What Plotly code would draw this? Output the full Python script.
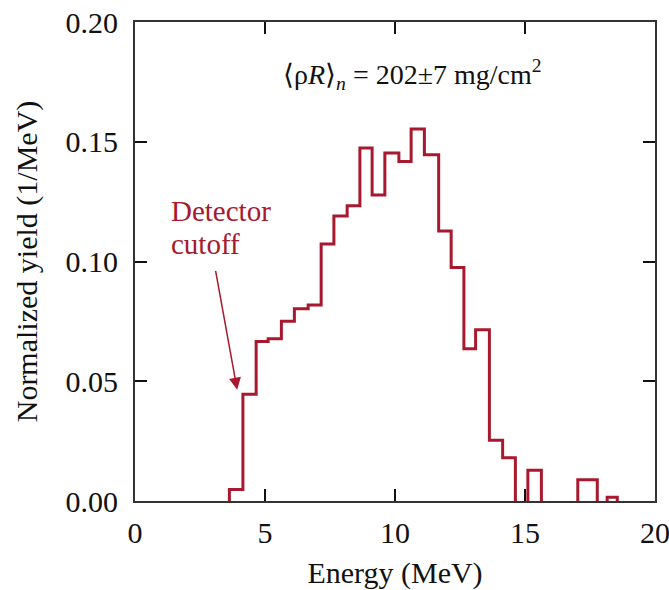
import plotly.graph_objects as go

# Histogram bin edges (MeV) and normalized yield (1/MeV)
edges = [3.63, 4.15, 4.66, 5.12, 5.63, 6.13, 6.66, 7.16, 7.65, 8.16, 8.65, 9.12,
         9.61, 10.15, 10.62, 11.13, 11.68, 12.16, 12.65, 13.10, 13.63, 14.14,
         14.63, 15.11, 15.63, 17.03, 17.78, 18.16, 18.55]
values = [0.0048, 0.0446, 0.0666, 0.0677, 0.0751, 0.0803, 0.0818, 0.1073, 0.1190,
          0.1233, 0.1474, 0.1278, 0.1453, 0.1418, 0.1553, 0.1446, 0.1127, 0.0975,
          0.0636, 0.0715, 0.0254, 0.0181, 0.0, 0.0128, 0.0, 0.0089, 0.0, 0.0016]

x_ticks = [0, 5, 10, 15, 20]
y_ticks = [0.00, 0.05, 0.10, 0.15, 0.20]
y_ticklabels = ["0.00", "0.05", "0.10", "0.15", "0.20"]

RED = "#A6192E"
AX = "#333333"
FONT = "Liberation Serif, Times New Roman, serif"

# build step outline, breaking where bins are empty
xs, ys = [edges[0]], [0]
for i, v in enumerate(values):
    if v == 0:
        xs += [edges[i], None, edges[i + 1]]
        ys += [0, None, 0]
    else:
        xs += [edges[i], edges[i + 1]]
        ys += [v, v]
xs.append(edges[-1])
ys.append(0)

fig = go.Figure()
fig.add_trace(go.Scatter(x=xs, y=ys, mode="lines",
                         line=dict(color=RED, width=3), connectgaps=False,
                         hoverinfo="skip", showlegend=False))

axis_common = dict(showgrid=False, zeroline=False, showline=True, linecolor=AX,
                   linewidth=2, mirror="ticks", ticks="inside", ticklen=12,
                   tickwidth=2, tickcolor="#111111", ticklabeloverflow="allow",
                   automargin=False,
                   tickfont=dict(family=FONT, size=30, color="#111111"))

fig.update_xaxes(range=[0, 20], tickvals=x_ticks, ticklabelstandoff=4,
                 title=dict(text="Energy (MeV)", font=dict(family=FONT, size=30, color="#111111"),
                            standoff=15),
                 **axis_common)
fig.update_yaxes(range=[0, 0.20], tickvals=y_ticks, ticktext=y_ticklabels,
                 ticklabelstandoff=9,
                 title=dict(text="Normalized yield (1/MeV)",
                            font=dict(family=FONT, size=30, color="#111111"), standoff=19),
                 **axis_common)

fig.add_annotation(x=10.66, y=0.178, xref="x", yref="y", showarrow=False,
                   text="\u27e8\u03c1<i>R</i>\u27e9<sub><i>n</i></sub> = 202\u00b17 mg/cm<sup>2</sup>",
                   font=dict(family=FONT, size=28, color="#111111"))

fig.add_annotation(x=1.29, y=0.1211, xref="x", yref="y", showarrow=False,
                   xanchor="left", yanchor="middle", text="Detector",
                   font=dict(family=FONT, size=29, color=RED))
fig.add_annotation(x=1.29, y=0.1073, xref="x", yref="y", showarrow=False,
                   xanchor="left", yanchor="middle", text="cutoff",
                   font=dict(family=FONT, size=29, color=RED))

fig.add_annotation(x=3.93, y=0.0465, ax=3.09, ay=0.0967, xref="x", yref="y",
                   axref="x", ayref="y", showarrow=True, text="",
                   arrowhead=2, arrowsize=1.6, arrowwidth=1.5, arrowcolor=RED)

fig.update_layout(width=669, height=590, margin=dict(l=135, r=14, t=22, b=89),
                  paper_bgcolor="white", plot_bgcolor="white")

fig.write_html("out.html")
